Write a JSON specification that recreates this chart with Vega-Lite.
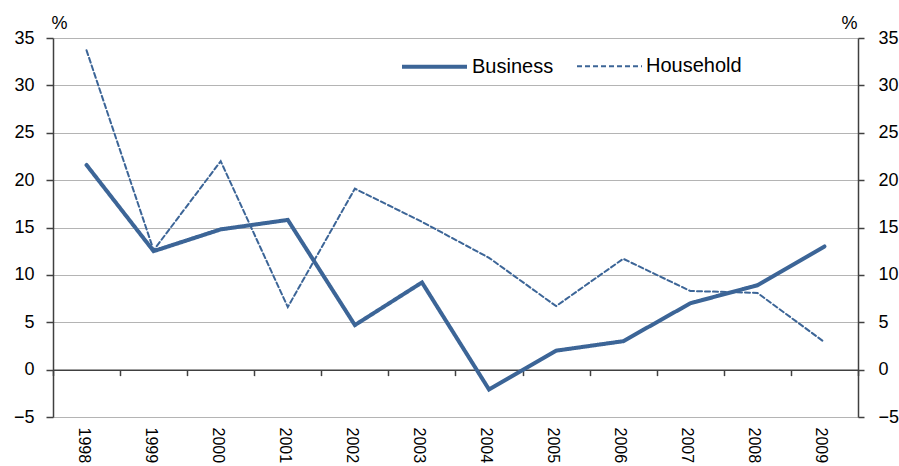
{
  "$schema": "https://vega.github.io/schema/vega-lite/v6.json",
  "width": 805,
  "height": 379,
  "autosize": {"type": "none"},
  "padding": {"left": 53, "top": 38, "right": 41, "bottom": 49},
  "background": "white",
  "config": {
    "view": {"stroke": null},
    "font": "Liberation Sans",
    "axis": {"labelFont": "Liberation Sans", "titleFont": "Liberation Sans", "labelColor": "#000000", "titleColor": "#000000"}
  },
  "data": {
    "values": [
      {"year": "1998", "series": "Business", "value": 21.6},
      {"year": "1999", "series": "Business", "value": 12.5},
      {"year": "2000", "series": "Business", "value": 14.8},
      {"year": "2001", "series": "Business", "value": 15.8},
      {"year": "2002", "series": "Business", "value": 4.7},
      {"year": "2003", "series": "Business", "value": 9.2},
      {"year": "2004", "series": "Business", "value": -2.1},
      {"year": "2005", "series": "Business", "value": 2.0},
      {"year": "2006", "series": "Business", "value": 3.0},
      {"year": "2007", "series": "Business", "value": 7.0},
      {"year": "2008", "series": "Business", "value": 8.9},
      {"year": "2009", "series": "Business", "value": 13.0},
      {"year": "1998", "series": "Household", "value": 33.7},
      {"year": "1999", "series": "Household", "value": 12.6},
      {"year": "2000", "series": "Household", "value": 22.0},
      {"year": "2001", "series": "Household", "value": 6.6},
      {"year": "2002", "series": "Household", "value": 19.1},
      {"year": "2003", "series": "Household", "value": 15.6},
      {"year": "2004", "series": "Household", "value": 11.8},
      {"year": "2005", "series": "Household", "value": 6.7},
      {"year": "2006", "series": "Household", "value": 11.7},
      {"year": "2007", "series": "Household", "value": 8.3},
      {"year": "2008", "series": "Household", "value": 8.1},
      {"year": "2009", "series": "Household", "value": 2.9}
    ]
  },
  "layer": [
    {
      "mark": {"type": "line", "strokeJoin": "miter", "strokeCap": "round"},
      "encoding": {
        "x": {
          "field": "year", "type": "ordinal",
          "scale": {"type": "band", "paddingInner": 0, "paddingOuter": 0},
          "axis": {
            "orient": "bottom", "title": null, "domain": false, "ticks": false, "grid": false,
            "labelAngle": 90, "labelAlign": "left", "labelBaseline": "middle",
            "labelPadding": 10, "labelFontSize": 16, "labelOffset": -3
          }
        },
        "y": {
          "field": "value", "type": "quantitative",
          "scale": {"domain": [-5, 35], "nice": false, "zero": false},
          "axis": {
            "orient": "left", "values": [-5, 0, 5, 10, 15, 20, 25, 30, 35],
            "title": "%", "titleAngle": 0, "titleX": 6, "titleY": -10, "titleAlign": "center",
            "titleBaseline": "alphabetic", "titleFontSize": 18, "titleFontWeight": "normal",
            "grid": true, "gridColor": "#b4b4b4", "gridWidth": 1,
            "domainColor": "#404040", "domainWidth": 1.5,
            "tickColor": "#404040", "tickSize": 7, "tickWidth": 1.5,
            "labelPadding": 12, "labelFontSize": 18
          }
        },
        "color": {
          "field": "series", "type": "nominal",
          "scale": {"domain": ["Business", "Household"], "range": ["#3C6597", "#3C6597"]},
          "legend": {
            "orient": "none", "legendX": 347, "legendY": -6, "direction": "horizontal",
            "title": null, "symbolType": "stroke", "symbolSize": 4225,
            "labelFont": "Liberation Sans", "labelFontSize": 20, "labelColor": "#000000", "labelOffset": 3, "columnPadding": 19
          }
        },
        "strokeDash": {
          "field": "series", "type": "nominal",
          "scale": {"domain": ["Business", "Household"], "range": [[1, 0], [5, 3]]},
          "legend": null
        },
        "strokeWidth": {
          "field": "series", "type": "nominal",
          "scale": {"domain": ["Business", "Household"], "range": [4, 2]},
          "legend": null
        }
      }
    },
    {
      "mark": {"type": "rule", "opacity": 0},
      "encoding": {
        "x": {
          "field": "year", "type": "ordinal",
          "axis": {
            "orient": "top", "offset": -331.625, "title": null, "labels": false, "grid": false,
            "domain": true, "domainColor": "#404040", "domainWidth": 1.5,
            "ticks": true, "tickBand": "extent", "tickSize": -6, "tickColor": "#404040", "tickWidth": 1.5
          }
        },
        "y": {
          "field": "value", "type": "quantitative",
          "axis": {
            "orient": "right", "values": [-5, 0, 5, 10, 15, 20, 25, 30, 35],
            "title": "%", "titleAngle": 0, "titleX": -9, "titleY": -10, "titleAlign": "center",
            "titleBaseline": "alphabetic", "titleFontSize": 18, "titleFontWeight": "normal",
            "grid": false,
            "domainColor": "#404040", "domainWidth": 1.5,
            "tickColor": "#404040", "tickSize": 6, "tickWidth": 1.5,
            "labelPadding": 14, "labelFontSize": 18
          }
        }
      }
    }
  ],
  "resolve": {"axis": {"x": "independent", "y": "independent"}}
}
